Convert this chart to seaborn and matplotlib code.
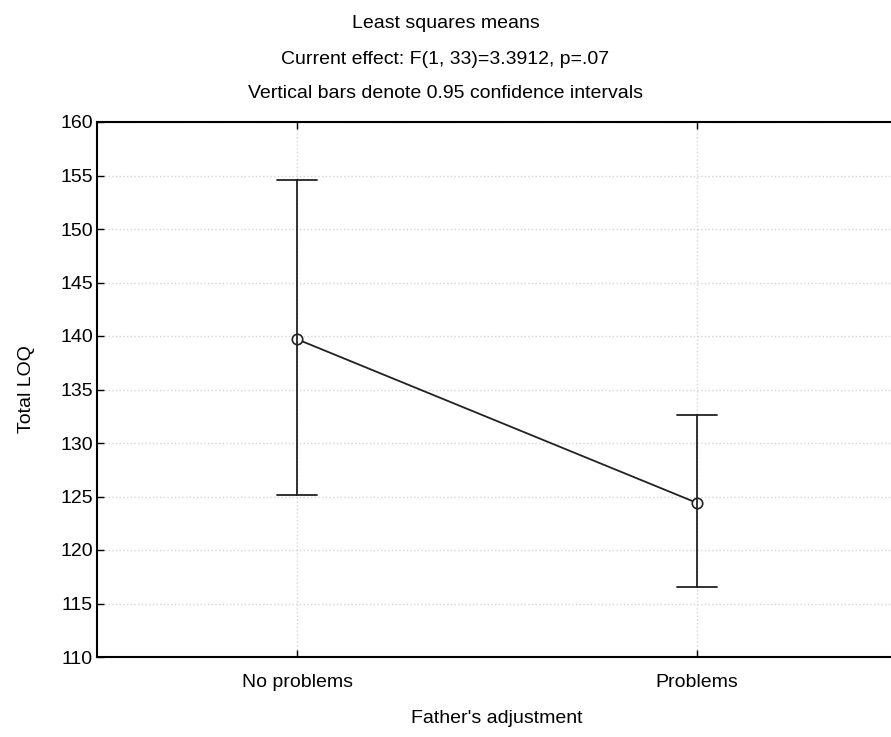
import pandas as pd
import matplotlib.pyplot as plt
import seaborn as sns

# Least squares means with 0.95 confidence limits
groups = ["No problems", "Problems"]
means = [139.7, 124.4]
lower = [125.1, 116.5]
upper = [154.6, 132.6]

rows = []
for g, lo, m, hi in zip(groups, lower, means, upper):
    for v in (lo, m, hi):
        rows.append({"group": g, "LOQ": v})
df = pd.DataFrame(rows)

sns.set_style("white")
plt.rcParams["font.family"] = ["Liberation Sans", "DejaVu Sans"]
plt.rcParams["text.color"] = "black"
plt.rcParams["axes.labelcolor"] = "black"

fig = plt.figure(figsize=(8.91, 7.37), dpi=100)
ax = fig.add_axes([97 / 891, 80 / 737, 800 / 891, 535 / 737])

sns.pointplot(data=df, x="group", y="LOQ", order=groups,
              estimator="median", errorbar=lambda v: (v.min(), v.max()),
              color="#222222", capsize=0.1, linewidth=1.3,
              err_kws={"linewidth": 1.3},
              marker="o", markersize=7.5, markerfacecolor="white",
              markeredgecolor="#222222", markeredgewidth=1.2, ax=ax)

ax.set_xlim(-0.5, 1.5)
ax.set_ylim(110, 160)
ax.set_yticks(range(110, 161, 5))
ax.grid(True, color="#d5d5d5", linestyle=":", linewidth=1.0)
for s in ax.spines.values():
    s.set_color("black")
    s.set_linewidth(1.5)
ax.tick_params(axis="both", direction="in", length=5, width=1, labelsize=14,
               colors="black", top=True, left=True, bottom=True)
ax.tick_params(axis="x", pad=12)
ax.tick_params(axis="y", pad=3)

ax.set_xlabel("Father's adjustment", fontsize=14, labelpad=14)
ax.set_ylabel("Total LOQ", fontsize=14, labelpad=18)

fig.text(0.5, 1 - 23 / 737, "Least squares means", ha="center", va="center", fontsize=14)
fig.text(0.5, 1 - 59 / 737, "Current effect: F(1, 33)=3.3912, p=.07", ha="center", va="center", fontsize=14)
fig.text(0.5, 1 - 94 / 737, "Vertical bars denote 0.95 confidence intervals", ha="center", va="center", fontsize=14)

fig.savefig("out.png", dpi=100)
